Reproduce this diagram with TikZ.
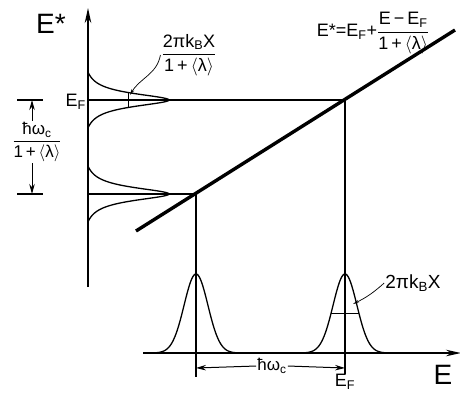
\documentclass[tikz,border=0pt]{standalone}
\usepackage{fix-cm}
\usepackage{amsmath}
\usepackage{fontspec}
\setmainfont{Liberation Sans}
\usetikzlibrary{arrows.meta,positioning,calc}
\newcommand{\frc}[2]{$\displaystyle\frac{\text{#1}}{\text{#2}}$}
\newcommand{\lam}{1\,+\,$\langle$λ$\rangle$}

\begin{document}
\begin{tikzpicture}[
  x=1pt, y=-1pt,
  every node/.style={inner sep=1pt},
  axis/.style ={line width=2pt, -{Stealth[length=15pt,width=6.5pt]}},
  lin/.style  ={line width=1.1pt},
  curve/.style={line width=1.3pt},
  slope/.style={line width=3.4pt},
  dim/.style  ={line width=1pt, -{Stealth[length=10pt,width=5.5pt]}},
  lead/.style ={line width=0.7pt, -{Stealth[length=6pt,width=3pt]}},
  big/.style  ={font=\fontsize{28}{30}\selectfont},
  mid/.style  ={font=\fontsize{18}{20}\selectfont},
  sml/.style  ={font=\fontsize{17}{19}\selectfont}
]
  \useasboundingbox (0,0) rectangle (460,392);

  \coordinate (o)   at (88,287);
  \coordinate (top) at (88,8);
  \coordinate (e0)  at (143,353);
  \coordinate (e1)  at (461,353);
  \coordinate (fu)  at (88,100);
  \coordinate (fl)  at (88,194);
  \coordinate (pu)  at (345,100);
  \coordinate (pl)  at (196,194);
  \coordinate (s0)  at (136,231);
  \coordinate (s1)  at (455,30);
  \coordinate (b1)  at (196,377);
  \coordinate (b2)  at (345,374);
  \coordinate (hwa) at (128.5,92.6);
  \coordinate (hwb) at (128.5,107.4);
  \coordinate (hga) at (331,313.5);
  \coordinate (hgb) at (359,313.5);
  \coordinate (ta)  at (32,100);
  \coordinate (tb)  at (32,194);
  \coordinate (da)  at (196,368);
  \coordinate (db)  at (345,368);
  \coordinate (tipa) at (130,95);
  \coordinate (tipb) at (353,304);

  \draw[axis] (o) -- (top);
  \draw[axis] (e0) -- (e1);

  \draw[lin] (fu) -- (pu) -- (b2);
  \draw[lin] (fl) -- (pl) -- (b1);
  \draw[slope] (s0) -- (s1);

  \foreach \c in {100,194}
    \draw[curve] plot[domain=-28:28, samples=90, smooth]
      ({88+81*(1/(1+(\x/8)^2)-0.0755)/0.9245}, {\c+\x});
  \foreach \c in {196,345}
    \draw[curve] plot[domain=-42:42, samples=90, smooth]
      ({\c+\x}, {353-79*exp(-0.693*(\x/14)^2)});

  \draw[lin] (hwa) -- (hwb);
  \draw[lin] (hga) -- (hgb);

  \draw[lin] (17,100) -- (43,100);
  \draw[lin] (17,194) -- (43,194);

  \node[big] (es) at (51,24) {E*};
  \node[big] (eb) at (443,375) {E};
  \node[mid, anchor=east] (efl) at (87,102) {E\textsubscript{F}};
  \node[mid, anchor=north, inner sep=0pt] (efb) at (b2) {E\textsubscript{F}};

  \node[mid] (form) at (373,33)
    {E*=E\textsubscript{F}+\frc{E\,−\,E\textsubscript{F}}{\lam}};

  \node[mid] (kx) at (189,55) {\frc{2πk\textsubscript{B}X}{\lam}};
  \draw[lead] (kx.west) to[out=260, in=60] (tipa);

  \node[font=\fontsize{19}{21}\selectfont] (kb) at (413,283) {2πk\textsubscript{B}X};
  \draw[lead] (kb.west) to[bend left=8] (tipb);

  \node[sml] (hw) at (37,142) {\frc{ħω\textsubscript{c}}{\lam}};
  \draw[dim] (hw.north -| ta) -- (ta);
  \draw[dim] (hw.south -| tb) -- (tb);

  \node[sml, fill=white] (hb) at (272,366) {ħω\textsubscript{c}};
  \draw[dim] (hb.west) -- (da);
  \draw[dim] (hb.east) -- (db);
\end{tikzpicture}
\end{document}
